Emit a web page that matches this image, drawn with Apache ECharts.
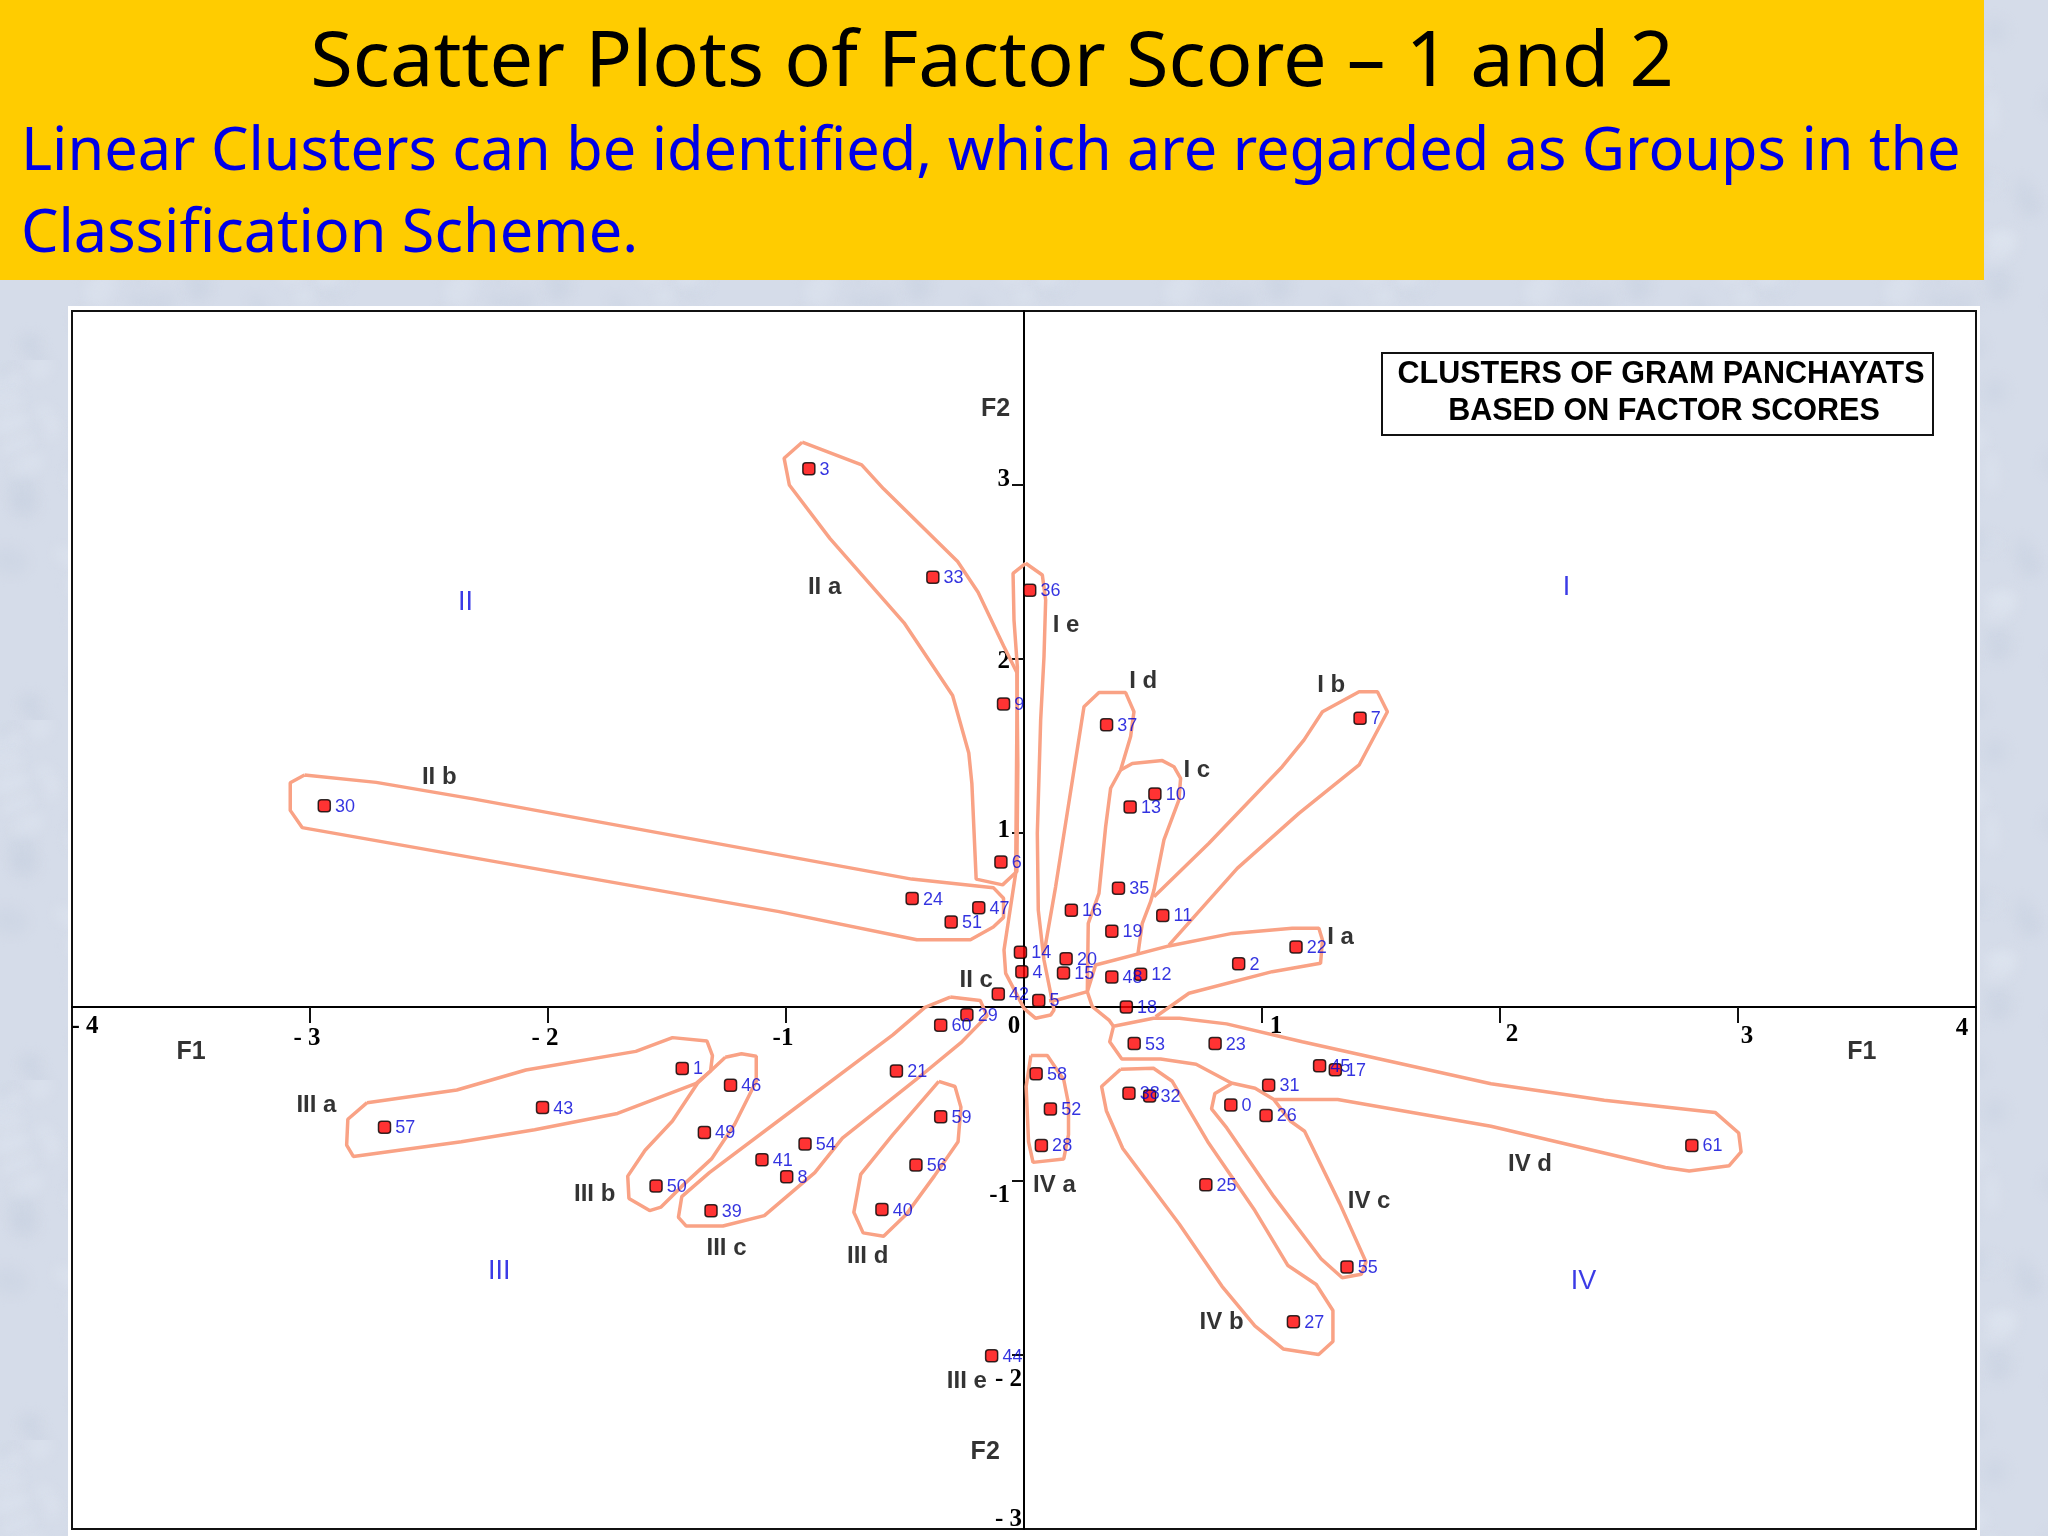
<!DOCTYPE html>
<html>

<head>
    <meta http-equiv="Content-Type" content="text/html; charset=utf-8" />
    <title>Scatter Plots of Factor Score</title>
    <script src="https://cdn.jsdelivr.net/npm/echarts@6/dist/echarts.min.js"></script>
    <style>
        html, body { margin: 0; padding: 0; background: #d3dbe7; }
    </style>
</head>

<body>
    <div id="main" style="width: 2048px;height:1536px;"></div>
</body>
<script type="text/javascript">
    // gram panchayats: id, factor score 1, factor score 2 (no point 34 can be seen)
    var pointIds = [0, 1, 2, 3, 4, 5, 6, 7, 8, 9, 10, 11, 12, 13, 14, 15, 16, 17, 18, 19, 20, 21, 22, 23, 24, 25, 26, 27, 28, 29, 30, 31, 32, 33, 35, 36, 37, 38, 39, 40, 41, 42, 43, 44, 45, 46, 47, 48, 49, 50, 51, 52, 53, 54, 55, 56, 57, 58, 59, 60, 61];
    var scoreF1 = [0.869, -1.436, 0.902, -0.904, -0.009, 0.062, -0.097, 1.412, -0.997, -0.086, 0.550, 0.583, 0.490, 0.446, -0.015, 0.166, 0.199, 1.308, 0.430, 0.369, 0.177, -0.536, 1.143, 0.803, -0.470, 0.764, 1.017, 1.132, 0.073, -0.240, -2.940, 1.028, 0.528, -0.383, 0.397, 0.024, 0.347, 0.441, -1.315, -0.597, -1.101, -0.108, -2.023, -0.136, 1.242, -1.233, -0.190, 0.369, -1.343, -1.546, -0.306, 0.111, 0.463, -0.920, 1.357, -0.454, -2.687, 0.051, -0.350, -0.350, 2.806];
    var scoreF2 = [-0.563, -0.353, 0.248, 3.093, 0.203, 0.038, 0.833, 1.659, -0.976, 1.742, 1.224, 0.526, 0.188, 1.149, 0.315, 0.195, 0.556, -0.360, 0, 0.435, 0.278, -0.368, 0.345, -0.210, 0.623, -1.021, -0.623, -1.809, -0.796, -0.045, 1.156, -0.450, -0.511, 2.470, 0.683, 2.395, 1.622, -0.496, -1.171, -1.164, -0.878, 0.075, -0.578, -2.005, -0.338, -0.450, 0.571, 0.173, -0.721, -1.029, 0.488, -0.586, -0.210, -0.788, -1.494, -0.908, -0.691, -0.383, -0.631, -0.105, -0.796];

    // cluster outlines, in factor score units
    var outlineIIa = [[-0.932, 3.246], [-0.682, 3.116], [-0.590, 2.978], [-0.279, 2.560], [-0.193, 2.384], [-0.086, 2.076], [-0.030, 1.922], [-0.026, 1.394], [-0.030, 0.779], [-0.090, 0.702], [-0.201, 0.735], [-0.219, 1.284], [-0.232, 1.460], [-0.300, 1.790], [-0.504, 2.208], [-0.815, 2.692], [-0.986, 3.000], [-1.008, 3.154], [-0.932, 3.246]];
    var outlineIIb = [[-3.023, 1.333], [-2.722, 1.291], [-2.315, 1.196], [-0.472, 0.735], [-0.129, 0.686], [-0.086, 0.625], [-0.086, 0.515], [-0.129, 0.460], [-0.225, 0.387], [-0.450, 0.387], [-1.029, 0.548], [-3.033, 1.031], [-3.083, 1.130], [-3.083, 1.289], [-3.023, 1.333]];
    var outlineIe = [[0.007, 2.550], [0.077, 2.483], [0.091, 2.339], [0.084, 2.013], [0.070, 1.649], [0.056, 0.998], [0.060, 0.557], [0.084, 0.270], [0.126, -0.017], [0.112, -0.046], [0.049, -0.065], [0, -0.008], [-0.077, 0.193], [-0.084, 0.328], [-0.035, 0.768], [-0.028, 1.956], [-0.042, 2.224], [-0.046, 2.492], [0.007, 2.550]];
    var outlineId = [[0.084, 0.308], [0.133, 0.692], [0.252, 1.726], [0.315, 1.807], [0.427, 1.807], [0.462, 1.697], [0.448, 1.554], [0.406, 1.362], [0.364, 1.257], [0.343, 1.036], [0.315, 0.653], [0.270, 0.481], [0.266, 0.088], [0.140, 0.040], [0.105, 0.036]];
    var outlineIc = [[0.406, 1.362], [0.455, 1.400], [0.581, 1.416], [0.630, 1.381], [0.658, 1.314], [0.651, 1.190], [0.588, 0.960], [0.546, 0.672], [0.532, 0.605], [0.497, 0.481], [0.479, 0.308]];
    var outlineIb = [[0.546, 0.634], [0.777, 0.941], [1.085, 1.381], [1.176, 1.534], [1.254, 1.697], [1.408, 1.812], [1.485, 1.812], [1.527, 1.697], [1.408, 1.391], [1.155, 1.113], [0.896, 0.797], [0.609, 0.356]];
    var outlineIa = [[0.378, -0.115], [0.357, -0.075], [0.287, 0.002], [0.266, 0.088], [0.301, 0.241], [0.609, 0.351], [0.875, 0.423], [1.127, 0.452], [1.239, 0.452], [1.254, 0.385], [1.246, 0.251], [1.043, 0.203], [0.693, 0.079], [0.553, -0.056]];
    var outlineIVd = [[0.376, -0.111], [0.544, -0.065], [0.653, -0.065], [0.851, -0.097], [1.169, -0.200], [1.962, -0.441], [2.438, -0.536], [2.904, -0.606], [3.003, -0.724], [3.013, -0.833], [2.963, -0.912], [2.795, -0.942], [2.695, -0.922], [1.962, -0.685], [1.318, -0.532], [1.050, -0.532], [0.971, -0.467], [0.871, -0.437], [0.723, -0.329], [0.574, -0.299], [0.411, -0.299], [0.360, -0.200], [0.376, -0.111]];
    var outlineIVc = [[0.871, -0.441], [0.802, -0.497], [0.788, -0.586], [0.852, -0.695], [1.050, -1.090], [1.248, -1.447], [1.337, -1.556], [1.417, -1.536], [1.437, -1.466], [1.327, -1.130], [1.179, -0.714], [1.119, -0.655], [1.050, -0.532]];
    var outlineIVb = [[0.406, -0.358], [0.544, -0.352], [0.623, -0.427], [0.772, -0.774], [0.970, -1.170], [1.109, -1.486], [1.228, -1.595], [1.298, -1.744], [1.298, -1.922], [1.238, -1.997], [1.089, -1.965], [0.970, -1.833], [0.832, -1.605], [0.653, -1.249], [0.415, -0.813], [0.346, -0.596], [0.326, -0.457], [0.406, -0.358]];
    var outlineIVa = [[0.029, -0.279], [0.098, -0.279], [0.167, -0.418], [0.187, -0.556], [0.187, -0.734], [0.167, -0.873], [0.038, -0.893], [0.019, -0.774], [0.009, -0.457], [0.029, -0.279]];
    var outlineIIIa = [[-2.760, -0.550], [-2.383, -0.477], [-2.093, -0.362], [-1.631, -0.255], [-1.477, -0.176], [-1.332, -0.196], [-1.309, -0.279], [-1.317, -0.368], [-1.380, -0.441], [-1.708, -0.612], [-2.056, -0.705], [-2.364, -0.774], [-2.818, -0.859], [-2.846, -0.794], [-2.841, -0.645], [-2.760, -0.550]];
    var outlineIIIb = [[-1.255, -0.289], [-1.187, -0.269], [-1.125, -0.283], [-1.125, -0.427], [-1.216, -0.675], [-1.313, -0.873], [-1.438, -1.031], [-1.525, -1.150], [-1.573, -1.170], [-1.660, -1.100], [-1.665, -0.972], [-1.592, -0.823], [-1.477, -0.655], [-1.371, -0.437], [-1.255, -0.289]];
    var outlineIIIc = [[-0.310, 0.057], [-0.184, 0.038], [-0.155, -0.051], [-0.261, -0.200], [-0.454, -0.418], [-0.763, -0.754], [-0.879, -0.952], [-1.091, -1.199], [-1.265, -1.259], [-1.419, -1.259], [-1.452, -1.209], [-1.438, -1.090], [-1.322, -0.952], [-0.994, -0.615], [-0.551, -0.160], [-0.416, -0.002], [-0.310, 0.057]];
    var outlineIIId = [[-0.358, -0.427], [-0.290, -0.457], [-0.265, -0.576], [-0.277, -0.774], [-0.377, -0.972], [-0.493, -1.189], [-0.590, -1.318], [-0.676, -1.298], [-0.715, -1.180], [-0.686, -0.962], [-0.551, -0.734], [-0.358, -0.427]];
    var allOutlines = [outlineIIa, outlineIIb, outlineIe, outlineId, outlineIc, outlineIb, outlineIa, outlineIVd, outlineIVc, outlineIVb, outlineIVa, outlineIIIa, outlineIIIb, outlineIIIc, outlineIIId];

    // text placed on the plot
    var groupNames = ['II a', 'I e', 'I d', 'I b', 'I c', 'II b', 'I a', 'II c', 'III a', 'III b', 'III c', 'III d', 'IV a', 'IV c', 'IV d', 'IV b', 'III e'];
    var groupF1 = [-0.838, 0.177, 0.501, 1.291, 0.726, -2.457, 1.330, -0.201, -2.973, -1.804, -1.250, -0.657, 0.128, 1.450, 2.126, 0.830, -0.240];
    var groupF2 = [2.425, 2.207, 1.885, 1.862, 1.374, 1.329, 0.413, 0.165, -0.556, -1.066, -1.374, -1.419, -1.014, -1.104, -0.893, -1.802, -2.140];
    var quadrantNames = ['I', 'II', 'III', 'IV'];
    var quadrantF1 = [2.279, -2.347, -2.205, 2.351];
    var quadrantF2 = [2.425, 2.335, -1.509, -1.569];
    var axisNames = ['F2', 'F2', 'F1', 'F1'];
    var axisNameF1 = [-0.119, -0.163, -3.500, 3.520];
    var axisNameF2 = [3.446, -2.545, -0.248, -0.248];

    // tick labels
    var xTickValues = [-4, -3, -2, -1, 0, 1, 2, 3, 4];
    var xTickLabels = ['- 4', '- 3', '- 2', '-1', '0', '1', '2', '3', '4'];
    var yTickValues = [-3, -2, -1, 1, 2, 3];
    var yTickLabels = ['- 3', '- 2', '-1', '1', '2', '3'];

    var titleText = 'Scatter Plots of Factor Score \u2013 1 and 2';
    var subtitleLines = ['Linear Clusters can be identified, which are regarded as Groups in the', 'Classification Scheme.'];
    var boxLines = ['CLUSTERS OF GRAM PANCHAYATS', 'BASED ON FACTOR SCORES'];

    // mottled slide background, a soft tile behind the chart
    function slideTexture() {
        var tile = document.createElement('canvas');
        tile.width = tile.height = 360;
        var ctx = tile.getContext('2d');
        ctx.fillStyle = '#d5dce9';
        ctx.fillRect(0, 0, 360, 360);
        ctx.filter = 'blur(6px)';
        for (var i = 0; i < 70; i++) {
            var x = (i * i * 0.381966 % 1) * 360;
            var y = (i * 0.754878 % 1) * 360;
            ctx.fillStyle = i % 2 ? 'rgba(195,205,222,0.3)' : 'rgba(230,235,244,0.3)';
            ctx.beginPath();
            ctx.ellipse(x, y, 9 + i % 13, 7 + i % 8, i * 1.3, 0, Math.PI * 2);
            ctx.fill();
        }
        return tile.toDataURL();
    }
    document.getElementById('main').style.backgroundImage = 'url(' + slideTexture() + ')';

    function textPoints(names, f1, f2) {
        return names.map(function (name, i) {
            return { value: [f1[i], f2[i]], name: name };
        });
    }

    var outlineSeries = allOutlines.map(function (outline) {
        return {
            type: 'line',
            data: outline,
            showSymbol: false,
            silent: true,
            z: 2,
            lineStyle: { color: '#f9a285', width: 3.5 }
        };
    });

    function textSeries(names, f1, f2, textStyle) {
        return {
            type: 'scatter',
            data: textPoints(names, f1, f2),
            symbolSize: 1,
            itemStyle: { color: 'transparent' },
            silent: true,
            z: 5,
            label: Object.assign({ show: true, position: 'inside', offset: [0, 2], formatter: '{b}' }, textStyle)
        };
    }

    // one rich style per tick label, the labels in the picture sit off their ticks
    var xRich = {
        a0: { padding: [0, 0, 0, 26] }, a1: { padding: [12, 6, 0, 0] }, a2: { padding: [12, 6, 0, 0] }, a3: { padding: [12, 6, 0, 0] },
        a4: { padding: [0, 20, 0, 0] }, a5: { padding: [0, 0, 0, 28] }, a6: { padding: [8, 0, 0, 24] }, a7: { padding: [10, 0, 0, 18] }, a8: { padding: [2, 28, 0, 0] }
    };
    var yRich = {
        b0: { padding: [0, 0, 19, 0] }, b1: { padding: [49, 0, 0, 0] }, b2: { padding: [29, 12, 0, 0] },
        b3: { padding: [0, 12, 5, 0] }, b4: { padding: [5, 12, 0, 0] }, b5: { padding: [0, 12, 11, 0] }
    };
    [xRich, yRich].forEach(function (rich) {
        Object.keys(rich).forEach(function (key) {
            rich[key].fontFamily = 'Liberation Serif';
            rich[key].fontWeight = 'bold';
            rich[key].fontSize = 25;
            rich[key].color = '#000';
        });
    });

    var myChart = echarts.init(document.getElementById('main'), null, { renderer: 'canvas' });
    var option = {
        animation: false,
        backgroundColor: 'transparent',
        grid: { left: 72, top: 311, width: 1904, height: 1218, show: true, borderColor: '#111', borderWidth: 2, backgroundColor: 'transparent', outerBoundsMode: 'none' },
        graphic: [
            { type: 'rect', z: -2, shape: { x: 68, y: 306, width: 1912, height: 1230 }, style: { fill: '#fff' } },
            { type: 'rect', z: -1, shape: { x: 0, y: 0, width: 1984, height: 280 }, style: { fill: '#ffcc00' } },
            { type: 'text', z: 10, x: 992, y: 64, style: { text: titleText, fill: '#000', font: '77.5px "Noto Sans"', align: 'center', verticalAlign: 'middle' } },
            { type: 'text', z: 10, x: 21, y: 153, style: { text: subtitleLines[0], fill: '#0000e6', font: '59.4px "Noto Sans"', align: 'left', verticalAlign: 'middle' } },
            { type: 'text', z: 10, x: 21, y: 235, style: { text: subtitleLines[1], fill: '#0000e6', font: '59.4px "Noto Sans"', align: 'left', verticalAlign: 'middle' } },
            { type: 'rect', z: 10, shape: { x: 1382, y: 353, width: 551, height: 82 }, style: { fill: '#fff', stroke: '#111', lineWidth: 2 } },
            { type: 'text', z: 11, x: 1661, y: 375, style: { text: boxLines[0], fill: '#000', font: 'bold 30.5px "Liberation Sans"', align: 'center', verticalAlign: 'middle' } },
            { type: 'text', z: 11, x: 1664, y: 412, style: { text: boxLines[1], fill: '#000', font: 'bold 30.5px "Liberation Sans"', align: 'center', verticalAlign: 'middle' } }
        ],
        xAxis: {
            type: 'value', min: -4, max: 4, interval: 1,
            position: 'bottom',
            offset: -522,
            splitLine: { show: false },
            axisLine: { onZero: false, lineStyle: { color: '#000', width: 2 } },
            axisTick: { show: true, length: 16, customValues: [-3, -2, -1, 1, 2, 3], lineStyle: { color: '#111', width: 2 } },
            axisLabel: {
                margin: 7,
                customValues: xTickValues,
                hideOverlap: false,
                formatter: function (value) {
                    var i = xTickValues.indexOf(value);
                    return '{a' + i + '|' + xTickLabels[i] + '}';
                },
                rich: xRich
            }
        },
        yAxis: {
            type: 'value', min: -3, max: 4, interval: 1,
            position: 'left',
            offset: -952,
            splitLine: { show: false },
            axisLine: { onZero: false, lineStyle: { color: '#000', width: 2 } },
            axisTick: { show: true, length: 12, customValues: [-2, -1, 1, 2, 3], lineStyle: { color: '#111', width: 2 } },
            axisLabel: {
                margin: 2,
                customValues: yTickValues,
                hideOverlap: false,
                formatter: function (value) {
                    var i = yTickValues.indexOf(value);
                    return '{b' + i + '|' + yTickLabels[i] + '}';
                },
                rich: yRich
            }
        },
        series: outlineSeries.concat([
            {
                type: 'scatter',
                data: pointIds.map(function (id, i) {
                    return { value: [scoreF1[i], scoreF2[i]], name: String(id) };
                }),
                symbol: 'roundRect',
                symbolSize: 12,
                silent: true,
                z: 4,
                itemStyle: { color: '#ff0000', borderColor: '#000', borderWidth: 1.5 },
                label: { show: true, position: 'right', distance: 4, offset: [0, 1], formatter: '{b}', color: '#0000d8', fontFamily: 'Liberation Sans', fontSize: 18 }
            },
            textSeries(groupNames, groupF1, groupF2, { color: '#000', fontFamily: 'Liberation Sans', fontWeight: 'bold', fontSize: 24 }),
            textSeries(quadrantNames, quadrantF1, quadrantF2, { color: '#0a0ae0', fontFamily: 'Liberation Sans', fontSize: 27 }),
            textSeries(axisNames, axisNameF1, axisNameF2, { color: '#000', fontFamily: 'Liberation Sans', fontWeight: 'bold', fontSize: 25 })
        ])
    };

    myChart.setOption(option);
</script>

</html>
